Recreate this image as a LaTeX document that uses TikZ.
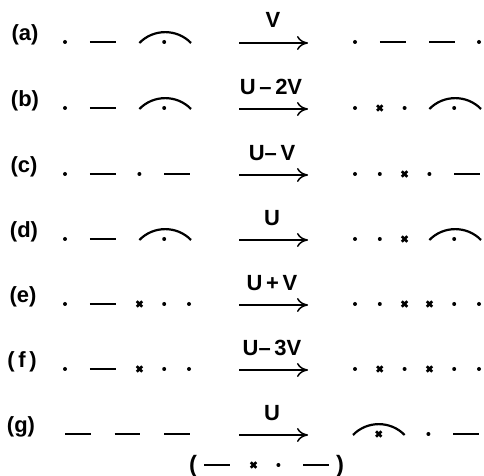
\documentclass[tikz,border=0pt]{standalone}
\usepackage{fontspec}
\setmainfont{Liberation Sans}
\usetikzlibrary{arrows.meta}
\begin{document}
\begin{tikzpicture}[
    x=0.02cm, y=-0.02cm,
    font=\fontsize{12.5}{14}\selectfont\bfseries,
    rowlabel/.style={anchor=base, inner sep=0pt},
    flowlabel/.style={anchor=base, inner sep=0pt},
    flow/.style={-{To[length=2.2mm, width=2.8mm]}, line width=0.85pt},
    sitedot/.pic={\fill (0,0) circle (2);},
    sitex/.pic={\draw[line width=1.5pt] (-2.7,-2.7) -- (2.7,2.7) (-2.7,2.7) -- (2.7,-2.7);},
    bond/.pic={\draw[line width=1.35pt] (0,0) -- (25.8,0);},
    lobe/.pic={\draw[line width=1.25pt] (0,1) .. controls (14,-13.5) and (37.6,-13.5) .. (51.6,1);},
]
\useasboundingbox (0,0) rectangle (484,476);

% Row labels
\node[rowlabel] (la) at (25,40.5) {(a)};
\node[rowlabel] (lb) at (25,106.5) {(b)};
\node[rowlabel] (lc) at (24,172.5) {(c)};
\node[rowlabel] (ld) at (24,237.5) {(d)};
\node[rowlabel] (le) at (23,302.5) {(e)};
\node[rowlabel] (lf) at (22,367.5) {(\,f\,)};
\node[rowlabel] (lg) at (21,432.5) {(g)};

% Left configurations
\path (65,42) pic{sitedot} (89.8,42) pic{bond} (139.4,42) pic{lobe} (164.2,42) pic{sitedot};
\path (65,108) pic{sitedot} (89.8,108) pic{bond} (139.4,108) pic{lobe} (164.2,108) pic{sitedot};
\path (65,174) pic{sitedot} (89.8,174) pic{bond} (139.4,174) pic{sitedot} (164.2,174) pic{bond};
\path (65,239) pic{sitedot} (89.8,239) pic{bond} (139.4,239) pic{lobe} (164.2,239) pic{sitedot};
\path (65,304) pic{sitedot} (89.8,304) pic{bond} (139.4,304) pic{sitex} (164.2,304) pic{sitedot} (189,304) pic{sitedot};
\path (65,369) pic{sitedot} (89.8,369) pic{bond} (139.4,369) pic{sitex} (164.2,369) pic{sitedot} (189,369) pic{sitedot};
\path (65,434) pic{bond} (114.6,434) pic{bond} (164.2,434) pic{bond};

% Arrows with velocities
\coordinate (a1) at (239,43); \coordinate (a2) at (308,43);
\coordinate (b1) at (239,109); \coordinate (b2) at (308,109);
\coordinate (c1) at (239,175); \coordinate (c2) at (308,175);
\coordinate (d1) at (239,240); \coordinate (d2) at (308,240);
\coordinate (e1) at (239,305); \coordinate (e2) at (308,305);
\coordinate (f1) at (239,370); \coordinate (f2) at (308,370);
\coordinate (g1) at (239,435); \coordinate (g2) at (308,435);
\draw[flow] (a1) -- (a2);
\draw[flow] (b1) -- (b2);
\draw[flow] (c1) -- (c2);
\draw[flow] (d1) -- (d2);
\draw[flow] (e1) -- (e2);
\draw[flow] (f1) -- (f2);
\draw[flow] (g1) -- (g2);
\node[flowlabel] (va) at (273,28) {V};
\node[flowlabel] (vb) at (271,95) {U\,--\,2V};
\node[flowlabel] (vc) at (272,161) {U--\,V};
\node[flowlabel] (vd) at (272,226) {U};
\node[flowlabel] (ve) at (272,291) {U\,+\,V};
\node[flowlabel] (vf) at (272,356) {U--\,3V};
\node[flowlabel] (vg) at (272,421) {U};

% Right configurations
\path (355,42) pic{sitedot} (379.8,42) pic{bond} (429.4,42) pic{bond} (479,42) pic{sitedot};
\path (355,108) pic{sitedot} (379.8,108) pic{sitex} (404.6,108) pic{sitedot} (429.4,108) pic{lobe} (454.2,108) pic{sitedot};
\path (355,174) pic{sitedot} (379.8,174) pic{sitedot} (404.6,174) pic{sitex} (429.4,174) pic{sitedot} (454.2,174) pic{bond};
\path (355,239) pic{sitedot} (379.8,239) pic{sitedot} (404.6,239) pic{sitex} (429.4,239) pic{lobe} (454.2,239) pic{sitedot};
\path (355,304) pic{sitedot} (379.8,304) pic{sitedot} (404.6,304) pic{sitex} (429.4,304) pic{sitex} (454.2,304) pic{sitedot} (479,304) pic{sitedot};
\path (355,369) pic{sitedot} (379.8,369) pic{sitex} (404.6,369) pic{sitedot} (429.4,369) pic{sitex} (454.2,369) pic{sitedot} (479,369) pic{sitedot};
\path (353,434) pic{lobe} (378.8,434) pic{sitex} (428.4,434) pic{sitedot} (453.2,434) pic{bond};

% Bottom: bracketed sequence
\node[rowlabel, font=\fontsize{13.5}{15}\selectfont\bfseries] (lp) at (193,473) {(};
\node[rowlabel, font=\fontsize{13.5}{15}\selectfont\bfseries] (rp) at (340,473) {)};
\path (204,465) pic{bond} (253.6,465) pic{sitex} (278.4,465) pic{sitedot} (303.2,465) pic{bond};
\end{tikzpicture}
\end{document}
